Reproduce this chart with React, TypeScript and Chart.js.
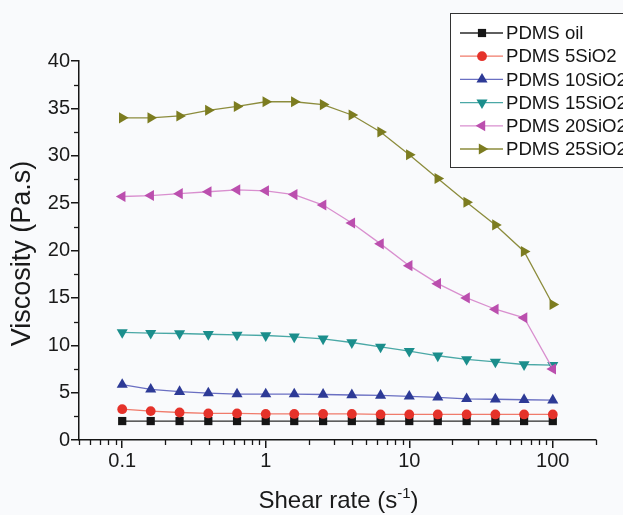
import React, { useEffect, useRef } from 'react';
import { Chart, registerables } from 'chart.js';

Chart.register(...registerables);

// ---------- data ----------
const shearRate = [0.1, 0.158, 0.251, 0.398, 0.631, 1, 1.58, 2.51, 3.98, 6.31, 10, 15.8, 25.1, 39.8, 63.1, 100];
const pdmsOil = [2.0, 2.0, 2.0, 2.0, 2.0, 2.0, 2.0, 2.0, 2.0, 2.0, 2.0, 2.0, 2.0, 2.0, 2.0, 2.0];
const pdms5 = [3.25, 3.05, 2.9, 2.8, 2.8, 2.75, 2.75, 2.75, 2.75, 2.7, 2.7, 2.7, 2.7, 2.7, 2.7, 2.7];
const pdms10 = [5.85, 5.35, 5.1, 4.95, 4.85, 4.85, 4.85, 4.8, 4.75, 4.7, 4.6, 4.5, 4.35, 4.3, 4.25, 4.2];
const pdms15 = [11.35, 11.27, 11.24, 11.16, 11.1, 11.03, 10.89, 10.68, 10.29, 9.83, 9.37, 8.89, 8.5, 8.25, 7.97, 7.9];
const pdms20 = [25.7, 25.8, 26.0, 26.2, 26.4, 26.3, 25.9, 24.8, 22.9, 20.7, 18.4, 16.5, 15.0, 13.8, 12.9, 7.5];
const pdms25 = [34.0, 34.0, 34.2, 34.8, 35.2, 35.7, 35.7, 35.4, 34.3, 32.5, 30.1, 27.6, 25.1, 22.7, 19.9, 14.3];

const seriesNames = ['PDMS oil', 'PDMS 5SiO2', 'PDMS 10SiO2', 'PDMS 15SiO2', 'PDMS 20SiO2', 'PDMS 25SiO2'];
const seriesValues = [pdmsOil, pdms5, pdms10, pdms15, pdms20, pdms25];

const xTickValues = [0.1, 1, 10, 100];
const xTickLabels = ['0.1', '1', '10', '100'];
const xMinorTicks = [0.05, 0.06, 0.07, 0.08, 0.09, 0.2, 0.3, 0.4, 0.5, 0.6, 0.7, 0.8, 0.9, 2, 3, 4, 5, 6, 7, 8, 9, 20, 30, 40, 50, 60, 70, 80, 90, 200];
const yMinorTicks = [2.5, 7.5, 12.5, 17.5, 22.5, 27.5, 32.5, 37.5];

const xTitleMain = 'Shear rate (s';
const xTitleSup = '-1';
const xTitleEnd = ')';
const yTitle = 'Viscosity (Pa.s)';

// ---------- styles ----------
const FONT = '"Liberation Sans", Arial, Helvetica, sans-serif';
const BG = '#f9fafc';
const AXIS = '#161616';
const markerColors = ['#151515', '#e5322a', '#2d3a96', '#1b8e8c', '#bb4fae', '#7c7c20'];
const lineColors = ['#2a2a2a', '#f07a6a', '#6a6fc2', '#4aa8a6', '#d98fcf', '#8c8c3c'];
const pointStyles = ['rect', 'circle', 'triangle', 'triangle', 'triangle', 'triangle'];
const pointRotations = [0, 0, 0, 180, 270, 90];
const pointRadii = [5.8, 4.9, 6.4, 6.4, 6.4, 6.4];

function drawMarker(ctx: CanvasRenderingContext2D, style: string, rot: number, x: number, y: number, r: number, color: string) {
  ctx.fillStyle = color;
  ctx.beginPath();
  if (style === 'rect') {
    const s = r * Math.SQRT1_2;
    ctx.rect(x - s, y - s, 2 * s, 2 * s);
  } else if (style === 'circle') {
    ctx.arc(x, y, r, 0, Math.PI * 2);
  } else {
    let a = (rot * Math.PI) / 180;
    ctx.moveTo(x + Math.sin(a) * r, y - Math.cos(a) * r);
    a += (2 * Math.PI) / 3;
    ctx.lineTo(x + Math.sin(a) * r, y - Math.cos(a) * r);
    a += (2 * Math.PI) / 3;
    ctx.lineTo(x + Math.sin(a) * r, y - Math.cos(a) * r);
    ctx.closePath();
  }
  ctx.fill();
}

const extrasPlugin = {
  id: 'extras',
  beforeDraw(chart: any) {
    const ctx = chart.ctx as CanvasRenderingContext2D;
    ctx.save();
    ctx.fillStyle = BG;
    ctx.fillRect(0, 0, chart.width, chart.height);
    ctx.restore();
  },
  afterDraw(chart: any) {
    const ctx = chart.ctx as CanvasRenderingContext2D;
    const xs = chart.scales.x;
    const ys = chart.scales.y;
    const area = chart.chartArea;
    ctx.save();
    // minor ticks
    ctx.strokeStyle = AXIS;
    ctx.lineWidth = 1.3;
    for (const v of xMinorTicks) {
      const px = Math.round(xs.getPixelForValue(v)) + 0.5;
      ctx.beginPath();
      ctx.moveTo(px, area.bottom);
      ctx.lineTo(px, area.bottom + 5);
      ctx.stroke();
    }
    for (const v of yMinorTicks) {
      const py = Math.round(ys.getPixelForValue(v)) + 0.5;
      ctx.beginPath();
      ctx.moveTo(area.left, py);
      ctx.lineTo(area.left - 5, py);
      ctx.stroke();
    }

    // x title with superscript
    ctx.fillStyle = '#1a1a1a';
    ctx.textBaseline = 'alphabetic';
    ctx.textAlign = 'left';
    const mainFont = `24px ${FONT}`;
    const supFont = `15px ${FONT}`;
    ctx.font = mainFont;
    const w1 = ctx.measureText(xTitleMain).width;
    const w3 = ctx.measureText(xTitleEnd).width;
    ctx.font = supFont;
    const w2 = ctx.measureText(xTitleSup).width;
    const cx = (area.left + area.right) / 2 + 1;
    const by = area.bottom + 68;
    let tx = cx - (w1 + w2 + w3) / 2;
    ctx.font = mainFont;
    ctx.fillText(xTitleMain, tx, by);
    tx += w1;
    ctx.font = supFont;
    ctx.fillText(xTitleSup, tx, by - 10);
    tx += w2;
    ctx.font = mainFont;
    ctx.fillText(xTitleEnd, tx, by);

    // y title
    ctx.save();
    ctx.translate(23, (area.top + area.bottom) / 2 + 3);
    ctx.rotate(-Math.PI / 2);
    ctx.textAlign = 'center';
    ctx.textBaseline = 'middle';
    ctx.font = `27px ${FONT}`;
    ctx.fillText(yTitle, 0, 0);
    ctx.restore();

    // legend box
    const lx = 450, ly = 13, lh = 154;
    ctx.fillStyle = '#ffffff';
    ctx.fillRect(lx, ly, 220, lh);
    ctx.strokeStyle = '#333';
    ctx.lineWidth = 1;
    ctx.strokeRect(lx + 0.5, ly + 0.5, 220, lh);
    const ds = chart.data.datasets;
    ctx.font = `18.6px ${FONT}`;
    ctx.textBaseline = 'middle';
    ctx.textAlign = 'left';
    for (let i = 0; i < ds.length; i++) {
      const y = ly + 20 + i * 23.2;
      ctx.strokeStyle = lineColors[i];
      ctx.lineWidth = 1.3;
      ctx.beginPath();
      ctx.moveTo(lx + 10, y);
      ctx.lineTo(lx + 53, y);
      ctx.stroke();
      drawMarker(ctx, pointStyles[i], pointRotations[i], lx + 32, y, pointRadii[i], markerColors[i]);
      ctx.fillStyle = '#141414';
      ctx.fillText(ds[i].label, lx + 56, y + 1);
    }
    ctx.restore();
  },
};

export default function App() {
  const ref = useRef<HTMLCanvasElement>(null);
  useEffect(() => {
    document.body.style.margin = '0';
    document.body.style.background = BG;
    const datasets = seriesNames.map((name, i) => ({
      label: name,
      data: shearRate.map((x, j) => ({ x, y: seriesValues[i][j] })),
      borderColor: lineColors[i],
      borderWidth: 1.3,
      backgroundColor: markerColors[i],
      pointBackgroundColor: markerColors[i],
      pointBorderColor: markerColors[i],
      pointBorderWidth: 0,
      pointStyle: pointStyles[i],
      pointRotation: pointRotations[i],
      pointRadius: pointRadii[i],
      tension: 0,
      fill: false,
      order: seriesNames.length - i,
    }));
    const tickFont = { family: FONT, size: 20 };
    const chart = new Chart(ref.current as HTMLCanvasElement, {
      type: 'line',
      data: { datasets } as any,
      plugins: [extrasPlugin],
      options: {
        responsive: false,
        animation: false,
        devicePixelRatio: 1,
        layout: { padding: { left: 0, top: 61, right: 27, bottom: 0 } },
        plugins: { legend: { display: false }, tooltip: { enabled: false }, title: { display: false } },
        scales: {
          x: {
            type: 'logarithmic',
            position: 'bottom',
            min: 0.05,
            max: 200,
            afterBuildTicks: (s: any) => {
              s.ticks = xTickValues.map((v) => ({ value: v, major: true }));
            },
            afterFit: (s: any) => {
              s.height = 75;
            },
            ticks: {
              autoSkip: false,
              maxRotation: 0,
              minRotation: 0,
              padding: 1,
              color: '#1a1a1a',
              font: tickFont,
              callback: (v: any) => {
                const idx = xTickValues.indexOf(Number(v));
                return idx >= 0 ? xTickLabels[idx] : '';
              },
            },
            grid: { drawOnChartArea: false, tickLength: 8, color: AXIS, lineWidth: 1.5 },
            border: { display: true, color: AXIS, width: 1.5 },
            title: { display: false },
          },
          y: {
            type: 'linear',
            min: 0,
            max: 40,
            afterFit: (s: any) => {
              s.width = 79;
            },
            ticks: { stepSize: 5, padding: 1, color: '#1a1a1a', font: tickFont },
            grid: { drawOnChartArea: false, tickLength: 8, color: AXIS, lineWidth: 1.5 },
            border: { display: true, color: AXIS, width: 1.5 },
            title: { display: false },
          },
        },
      } as any,
    });
    return () => chart.destroy();
  }, []);
  return <canvas ref={ref} width={623} height={515} style={{ display: 'block' }} />;
}
